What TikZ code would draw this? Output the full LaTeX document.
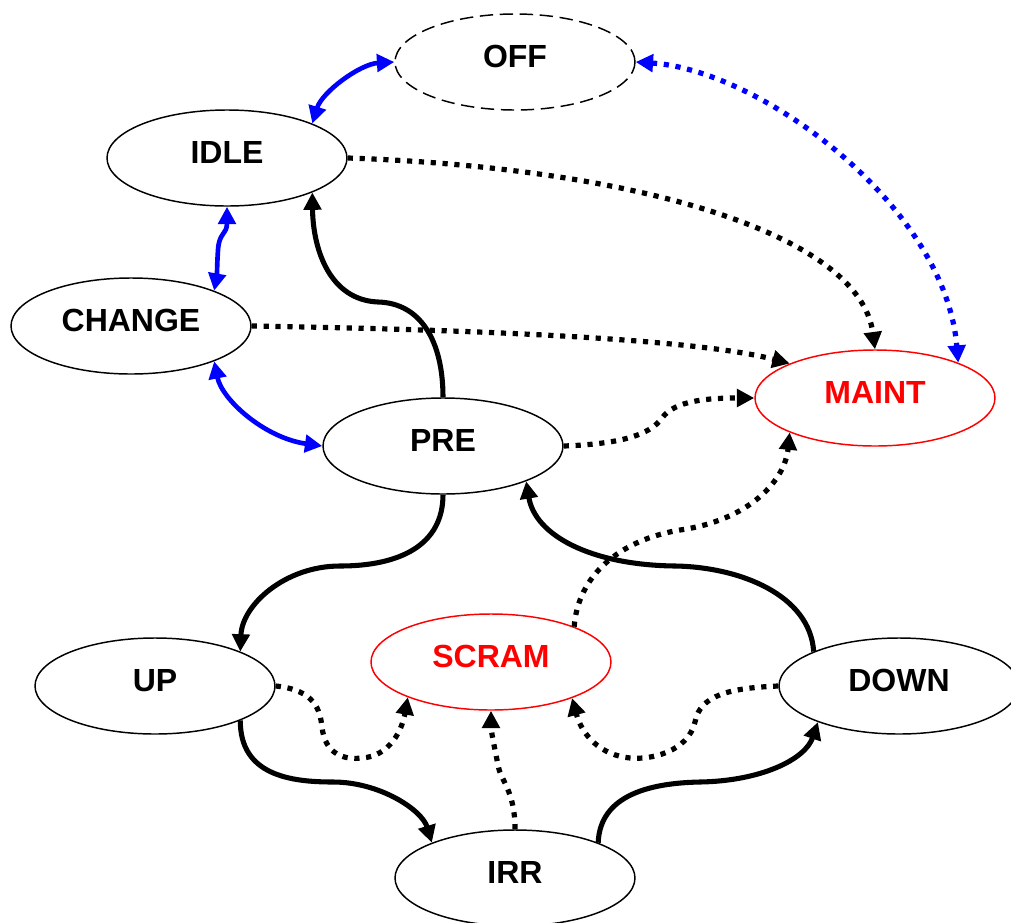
\documentclass[tikz,border=0pt]{standalone}
\usepackage{fontspec}
\setmainfont{Liberation Sans}
\usetikzlibrary{arrows.meta,shapes.geometric}
\begin{document}
\begin{tikzpicture}[x=0.75pt,y=-0.75pt,
  state/.style={ellipse, draw, line width=1.1pt, minimum width=180pt, minimum height=72pt,
    inner sep=0pt, font=\fontsize{24}{28}\selectfont\bfseries, text height=17.2pt, text depth=9pt},
  redstate/.style={state, draw=red, text=red},
  offstate/.style={state, dash pattern=on 10pt off 5pt},
  solidarrow/.style={line width=3.8pt, -{Triangle[length=13pt,width=13pt]}},
  dotarrow/.style={line width=3.9pt, dash pattern=on 3.9pt off 5pt, -{Triangle[length=13pt,width=13pt]}},
  bluesolid/.style={blue, line width=3.5pt, {Triangle[length=13pt,width=13pt]}-{Triangle[length=13pt,width=13pt]}},
  bluedotted/.style={blue, line width=3.9pt, dash pattern=on 3.9pt off 5pt, {Triangle[length=13pt,width=13pt]}-{Triangle[length=13pt,width=13pt]}}
]
\clip (0,0) rectangle (1011,922);
\fill[white] (0,0) rectangle (1011,922);

\node[offstate] (OFF) at (515,62) {OFF};
\node[state] (IDLE) at (227,158) {IDLE};
\node[state] (CHANGE) at (131,326) {CHANGE};
\node[state] (PRE) at (443,446) {PRE};
\node[redstate] (MAINT) at (875,398) {MAINT};
\node[state] (UP) at (155,686) {UP};
\node[redstate] (SCRAM) at (491,662) {SCRAM};
\node[state] (DOWN) at (899,686) {DOWN};
\node[state] (IRR) at (515,878) {IRR};

\draw[bluesolid] (OFF.180) .. controls (360,64) and (322,92) .. (IDLE.22);
\draw[bluedotted] (OFF.0) .. controls (760,70) and (945,205) .. (MAINT.23);
\draw[dotarrow] (IDLE.0) .. controls (640,168) and (860,235) .. (MAINT.90);
\draw[dotarrow] (CHANGE.0) .. controls (500,330) and (700,340) .. (MAINT.158);
\draw[dotarrow] (PRE.0) .. controls (620,444) and (650,435) .. (662,418) .. controls (675,400) and (710,398) .. (MAINT.180);
\draw[dotarrow] (SCRAM.23) .. controls (578,575) and (620,540) .. (680,530) .. controls (750,520) and (785,480) .. (MAINT.-158);
\draw[solidarrow] (PRE.90) .. controls (443,340) and (420,303) .. (378,302) .. controls (330,300) and (313,250) .. (IDLE.-22);
\draw[bluesolid] (IDLE.-90) .. controls (227,235) and (219,232) .. (218,250) .. controls (217,265) and (217,275) .. (CHANGE.23);
\draw[bluesolid] (CHANGE.-23) .. controls (222,400) and (265,438) .. (PRE.180);
\draw[solidarrow] (PRE.-90) .. controls (443,545) and (400,566) .. (340,566) .. controls (285,566) and (242,605) .. (UP.22);
\draw[dotarrow] (UP.0) .. controls (315,690) and (320,710) .. (322,727) .. controls (325,755) and (345,760) .. (362,758) .. controls (390,756) and (402,730) .. (SCRAM.-157);
\draw[solidarrow] (UP.-22) .. controls (240,775) and (290,782) .. (333,782) .. controls (380,782) and (422,810) .. (IRR.157);
\draw[dotarrow] (IRR.90) .. controls (515,790) and (500,780) .. (498,765) .. controls (494,745) and (491,730) .. (SCRAM.-90);
\draw[solidarrow] (IRR.23) .. controls (600,795) and (650,783) .. (700,782) .. controls (760,781) and (805,760) .. (DOWN.-156);
\draw[solidarrow] (DOWN.158) .. controls (810,595) and (740,567) .. (675,566) .. controls (590,565) and (535,535) .. (PRE.-23);
\draw[dotarrow] (DOWN.180) .. controls (730,688) and (700,695) .. (695,722) .. controls (688,752) and (650,760) .. (630,758) .. controls (600,755) and (582,735) .. (SCRAM.-24);
\end{tikzpicture}
\end{document}
